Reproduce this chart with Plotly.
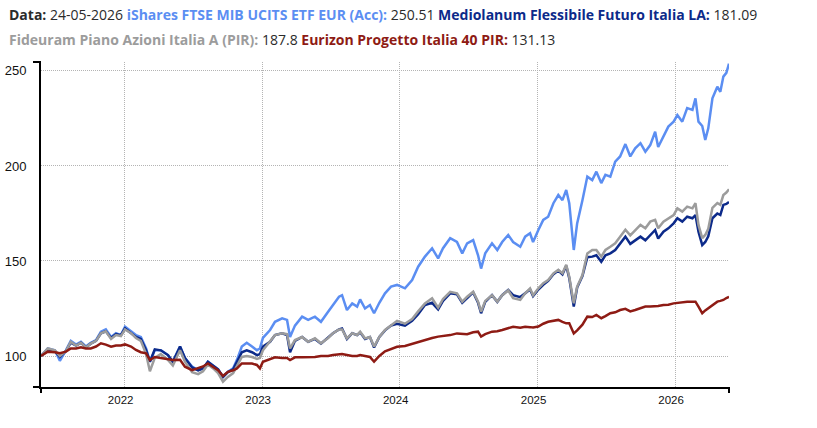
import plotly.graph_objects as go

dates = [
    "2021-05-24", "2021-06-11", "2021-06-30", "2021-07-13", "2021-07-29", "2021-08-11", "2021-08-25",
    "2021-09-07", "2021-09-20", "2021-10-03", "2021-10-17", "2021-10-30", "2021-11-12", "2021-11-26",
    "2021-12-09", "2021-12-22", "2022-01-02", "2022-01-18", "2022-01-31", "2022-02-13", "2022-02-27",
    "2022-03-09", "2022-03-22", "2022-04-07", "2022-04-26", "2022-05-09", "2022-05-28", "2022-06-10",
    "2022-06-29", "2022-07-15", "2022-07-28", "2022-08-10", "2022-08-24", "2022-09-06", "2022-09-19",
    "2022-10-02", "2022-10-16", "2022-10-26", "2022-11-08", "2022-11-21", "2022-12-05", "2022-12-18",
    "2022-12-26", "2023-01-03", "2023-01-22", "2023-02-04", "2023-02-23", "2023-03-08", "2023-03-16",
    "2023-03-29", "2023-04-17", "2023-05-03", "2023-05-21", "2023-06-06", "2023-06-25", "2023-07-08",
    "2023-07-24", "2023-08-01", "2023-08-14", "2023-08-28", "2023-09-10", "2023-09-18", "2023-10-01",
    "2023-10-14", "2023-10-25", "2023-11-08", "2023-11-23", "2023-12-09", "2023-12-25", "2024-01-15",
    "2024-02-03", "2024-02-19", "2024-03-08", "2024-03-27", "2024-04-12", "2024-04-25", "2024-05-14",
    "2024-06-01", "2024-06-15", "2024-06-28", "2024-07-14", "2024-07-27", "2024-08-04", "2024-08-15",
    "2024-09-02", "2024-09-16", "2024-09-29", "2024-10-15", "2024-10-28", "2024-11-16", "2024-11-29",
    "2024-12-12", "2024-12-20", "2025-01-03", "2025-01-16", "2025-01-29", "2025-02-12", "2025-02-25",
    "2025-03-08", "2025-03-18", "2025-03-26", "2025-04-07", "2025-04-16", "2025-04-30", "2025-05-13",
    "2025-05-26", "2025-06-06", "2025-06-19", "2025-06-30", "2025-07-13", "2025-07-26", "2025-08-08",
    "2025-08-22", "2025-09-04", "2025-09-17", "2025-10-01", "2025-10-14", "2025-10-27", "2025-11-09",
    "2025-11-17", "2025-12-01", "2025-12-14", "2025-12-28", "2026-01-07", "2026-01-20", "2026-02-02",
    "2026-02-16", "2026-02-24", "2026-03-04", "2026-03-14", "2026-03-22", "2026-03-30", "2026-04-10",
    "2026-04-23", "2026-05-01", "2026-05-09", "2026-05-17", "2026-05-24",
]

ishares = [
    100, 104, 103, 97.5, 103, 108, 106, 107.5, 105, 107, 108.4, 112.8, 114, 110, 112, 111, 115.4, 113, 111,
    110, 104, 97, 103, 103, 100.5, 97, 105, 99, 94.4, 92.6, 93.5, 97, 95, 93, 89, 91.7, 93.5, 98, 105, 107,
    105, 103, 104, 109.5, 113.7, 118, 119.8, 119, 110, 116, 120.7, 119, 120.7, 118, 123.3, 126.8, 131.2, 132,
    124.2, 127.7, 126, 129.8, 125, 126.8, 122.5, 128, 133, 136.5, 137.4, 135.6, 140, 147, 152.3, 156.7,
    151.4, 156.7, 162, 160, 154, 159.3, 161, 153, 146, 154, 159.3, 155.8, 160, 163.7, 160, 157.5, 162.8,
    164.6, 160, 166.3, 171.6, 173.3, 180.4, 184.7, 182, 187.4, 180.4, 155.8, 169.8, 182, 194.4, 192.6, 197,
    191, 195.3, 194.4, 202.3, 205, 211.5, 205, 209.3, 212, 207.5, 211, 218, 210, 215.4, 220.7, 223.3, 226.8,
    223.3, 230.4, 229.5, 235.6, 223.3, 221, 213.7, 219.8, 235.6, 241.7, 239, 247, 249, 253.8,
]

mediolanum = [
    100, 103.5, 102.5, 99.5, 102.5, 107, 105.5, 107, 104.5, 106.5, 108, 112, 113, 109.5, 111.5, 111, 114.5,
    112, 110, 109, 103, 97, 103.5, 103, 100.5, 97, 105, 99, 94, 92.5, 93.5, 97, 95, 93, 89, 91.5, 93, 97,
    102, 103, 102, 100.5, 101, 105, 107.5, 111, 112, 111, 102, 108, 110, 107.5, 109, 106.5, 109.5, 112, 114,
    114.5, 109, 112, 111, 112.5, 109, 110, 104.5, 110, 113.5, 116, 117, 116, 118.5, 122, 126.8, 128, 124.5,
    129, 133, 132.5, 128, 130.5, 133.5, 128, 122.5, 128.5, 132, 128.5, 132, 134.8, 132, 131, 133, 135, 131.5,
    135, 137.5, 139.5, 143, 145, 143, 147.5, 141, 126, 136, 142, 152, 152.3, 153, 149.6, 153, 154, 155.8,
    159.3, 162.8, 159, 160.9, 162.8, 160.9, 163.7, 166.3, 161.8, 165.4, 167.2, 169.8, 172.5, 170.7, 173.3,
    172.5, 174.2, 165.4, 158.4, 160, 163, 172.5, 175, 174.2, 179.5, 180, 181.09,
]

fideuram = [
    100, 104, 103, 100, 102.5, 107.5, 105.5, 107, 104.5, 106.5, 108, 112, 113, 109, 111, 110.5, 114, 112,
    109.5, 108, 101, 92, 99, 101, 98, 95, 103, 97, 91.5, 90.5, 92, 95.5, 93.5, 91, 86.5, 89, 91, 95, 99.5,
    100, 99.5, 98.5, 99, 103, 107.5, 111, 112, 111.5, 104, 108.4, 110, 107.5, 109.3, 106.7, 109.5, 112, 114,
    114, 109.3, 112, 111, 112.8, 109.3, 110, 105, 110, 113.7, 116.3, 118.5, 117, 119.5, 123.5, 127.7, 130.4,
    125.5, 130, 133.8, 133, 128.6, 131.2, 133.8, 128.6, 123.3, 129, 132, 128.6, 132, 134.5, 130.4, 129.5,
    133, 135.6, 132, 135.6, 138.3, 140, 143.5, 145.3, 143.5, 148, 141.7, 127.7, 136.5, 142.6, 154, 155.8,
    155.8, 152.3, 155.8, 157.5, 159.3, 162.8, 166.5, 163.5, 166.3, 169, 167.2, 170.7, 171.6, 167.2, 170.7,
    172.5, 174.2, 177.7, 176, 178.6, 177.7, 180.4, 169, 162, 163.7, 167, 178, 180.5, 179.5, 184.7, 186, 187.8,
]

eurizon = [
    100, 102.3, 102, 101.5, 102.3, 104, 104, 104.6, 104, 104, 105, 106.7, 106, 104.9, 105.5, 105.5, 106.1,
    105, 103.2, 102, 101.4, 97.9, 99.5, 99, 98.6, 97.9, 98, 94.4, 92.6, 93.5, 94.5, 96.1, 94.5, 92.6, 89.5,
    91.7, 92.5, 93.5, 96.1, 96.1, 96, 95.3, 93.5, 97, 98.2, 99.3, 99, 99, 97.9, 99.3, 99.3, 99.3, 99.5, 100,
    100, 100.5, 101, 101, 100.5, 100, 100, 100.5, 100, 99.5, 97, 100, 102.5, 103.5, 104.9, 105.3, 106.5,
    107.5, 108.4, 109.5, 110.2, 110.5, 111, 111.9, 111.5, 111.5, 112.5, 112.8, 110.2, 111.5, 112.8, 113,
    113.7, 114.5, 115.4, 114.9, 115.4, 115.2, 115, 115.5, 117, 118, 118.5, 119, 118, 117.2, 117.2, 111.9,
    113.5, 116.5, 120.7, 120.5, 121.6, 119.9, 121, 122.5, 123, 124.2, 124.8, 123.5, 124.2, 125, 126, 126,
    126, 126.3, 126.8, 127, 127.7, 128, 128.3, 128.6, 128.6, 128.6, 126, 122.5, 124, 125.1, 127, 128.6, 129,
    129.5, 130.5, 131.13,
]

series_names = [
    "iShares FTSE MIB UCITS ETF EUR (Acc)",
    "Mediolanum Flessibile Futuro Italia LA",
    "Fideuram Piano Azioni Italia A (PIR)",
    "Eurizon Progetto Italia 40 PIR",
]
series_colors = ["#5b8ef2", "#0c2a8a", "#9c9c9c", "#8e1b14"]
year_ticks = ["2022-01-01", "2023-01-01", "2024-01-01", "2025-01-01", "2026-01-01"]
year_labels = ["2022", "2023", "2024", "2025", "2026"]
y_ticks = [100, 150, 200, 250]

W, H = 817, 428
L, R, T, B = 41, 88, 62, 41
PW, PH = W - L - R, H - T - B

fig = go.Figure()
for name, vals, col in zip(series_names, [ishares, mediolanum, fideuram, eurizon], series_colors):
    fig.add_trace(go.Scatter(x=dates, y=vals, mode="lines", name=name,
                             line=dict(color=col, width=2.5)))

tick_font = dict(family="Liberation Sans, Arial, sans-serif", color="#111111")
grid = dict(showgrid=True, gridcolor="#b4b4b4", griddash="1px,1px", gridwidth=1)
fig.update_layout(
    width=W, height=H, autosize=False,
    margin=dict(l=L, r=R, t=T, b=B, pad=0, autoexpand=False),
    plot_bgcolor="white", paper_bgcolor="white",
    showlegend=False,
    xaxis=dict(
        type="date", range=["2021-05-24", "2026-05-24"],
        tickvals=year_ticks, ticktext=year_labels, **grid,
        showline=True, linecolor="black", linewidth=2, automargin=False,
        ticks="", zeroline=False, ticklabelstandoff=1, ticklabelshift=-4,
        tickfont=dict(size=11.5, **tick_font),
    ),
    yaxis=dict(
        range=[83.7, 254.7], tickvals=y_ticks, automargin=False, **grid,
        showline=True, linecolor="black", linewidth=2,
        ticks="", zeroline=False, ticklabelstandoff=10,
        tickfont=dict(size=13, **tick_font),
    ),
)

# outer ticks of the axis domain paths
ox = 8 / PW
oy = 6 / PH
for x0, y0, x1, y1 in [(-ox, 1, 0, 1), (-ox, 0, 0, 0), (0, 0, 0, -oy), (1, 0, 1, -oy)]:
    fig.add_shape(type="line", xref="paper", yref="paper", x0=x0, y0=y0, x1=x1, y1=y1,
                  line=dict(color="black", width=2))

dark = "#2b2b2b"
line1 = ("<b>Data:</b> 24-05-2026 "
         f"<b><span style='color:{series_colors[0]}'>{series_names[0]}:</span></b> 250.51 "
         f"<b><span style='color:{series_colors[1]}'>{series_names[1]}:</span></b> 181.09")
line2 = (f"<b><span style='color:{series_colors[2]}'>{series_names[2]}:</span></b> 187.8 "
         f"<b><span style='color:{series_colors[3]}'>{series_names[3]}:</span></b> 131.13")
title_font = dict(family="Open Sans, sans-serif", size=14, color=dark)
for txt, ypix in [(line1, 14.5), (line2, 39.5)]:
    fig.add_annotation(text=txt, xref="paper", yref="paper",
                       x=(7 - L) / PW, y=(H - B - ypix) / PH,
                       xanchor="left", yanchor="middle", showarrow=False,
                       font=title_font, align="left")

fig.write_html("out.html")
